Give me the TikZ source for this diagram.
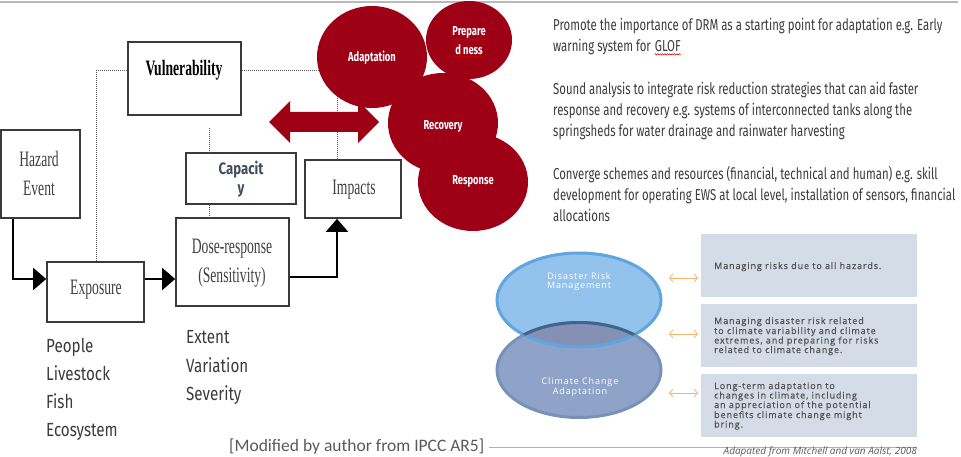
\documentclass[tikz,border=0pt]{standalone}
\usepackage{fontspec}
\setmainfont{Fira Sans}
\newfontfamily\cond{Fira Sans}[FakeStretch=0.72]
\newfontfamily\condl{Fira Sans}[FakeStretch=0.8]
\newfontfamily\tser{Liberation Serif}[FakeStretch=0.62]
\newfontfamily\vennf{Open Sans}[LetterSpace=10]
\newfontfamily\panelf{Open Sans}[LetterSpace=10, FakeBold=0.5]
\newfontfamily\opensans{Open Sans}
\newfontfamily\cali{Carlito}
\usetikzlibrary{arrows.meta,decorations.pathmorphing,shapes.geometric}
\definecolor{drmred}{HTML}{9E0016}
\definecolor{boxline}{HTML}{3A3A3A}
\definecolor{sertext}{HTML}{404040}
\definecolor{txt}{HTML}{3B3B3B}
\definecolor{captxt}{HTML}{3F4D5E}
\definecolor{drmfill}{HTML}{93C2EC}
\definecolor{drmline}{HTML}{5FA5E0}
\definecolor{ccafill}{HTML}{8FA3C8}
\definecolor{ccaline}{HTML}{7791BB}
\definecolor{ovfill}{HTML}{8491B4}
\definecolor{ovline}{HTML}{3D6689}
\definecolor{panel}{HTML}{D4DCE8}
\definecolor{orarrow}{HTML}{F5B26B}
\definecolor{rulec}{HTML}{9DB3D6}
\tikzset{
  box/.style={draw=boxline, line width=1.6pt, fill=white, inner sep=0pt},
  sertxt/.style={inner sep=0pt, text=sertext, font=\tser\fontsize{22}{28}\selectfont},
  dots/.style={draw=gray!70!black, line width=1pt, densely dotted},
  flow/.style={draw=black, line width=1.5pt, -{Triangle[length=13pt,width=22pt]}},
  blob/.style={ellipse, fill=drmred, inner sep=0pt},
  blobtxt/.style={inner sep=0pt, text=white, font=\cond\bfseries\fontsize{13}{15}\selectfont},
  para/.style={anchor=base west, inner sep=0pt, text=txt, font=\cond\fontsize{15.8}{18}\selectfont},
  listtxt/.style={anchor=base west, inner sep=0pt, text=txt, font=\condl\fontsize{19}{22}\selectfont},
  squig/.style={draw=red!80!black, line width=0.5pt, decorate, decoration={snake, amplitude=0.7pt, segment length=2.4pt}},
  panelbox/.style={fill=panel, inner sep=0pt, minimum width=216pt, minimum height=63pt, anchor=north west},
  paneltxt/.style={anchor=base west, inner sep=0pt, text=black!68, font=\panelf\fontsize{9}{9.7}\selectfont},
  venntxt/.style={inner sep=0pt, text=white, font=\vennf\fontsize{9}{10}\selectfont},
  twoway/.style={draw=orarrow, line width=0.8pt, {Straight Barb[length=3.5pt,width=8pt]}-{Straight Barb[length=3.5pt,width=8pt]}},
}
\begin{document}
\begin{tikzpicture}[x=1pt,y=-1pt]
\useasboundingbox (0,0) rectangle (961,457);
% top rule
\draw[gray!55, line width=2pt] (0,2) -- (958,2);

% ---- boxes ----
\node[box, minimum width=113pt, minimum height=73pt] (vul) at (184.5,78.5) {};
\node[box, minimum width=79pt, minimum height=88pt] (haz) at (40.5,174) {};
\node[box, minimum width=97pt, minimum height=60pt] (exp) at (95.5,292) {};
\node[box, minimum width=113pt, minimum height=88pt] (dose) at (232.5,262) {};
\node[box, minimum width=110pt, minimum height=51pt] (cap) at (241,178.5) {};
\node[box, minimum width=96pt, minimum height=58pt] (imp) at (353,189) {};

\node[sertxt, text=black, font=\tser\bfseries\fontsize{22}{28}\selectfont] (vult) at (184,70) {Vulnerability};
\node[sertxt] (hazt1) at (39,159) {Hazard};
\node[sertxt] (hazt2) at (39,188) {Event};
\node[sertxt] (expt) at (96,290) {Exposure};
\node[sertxt] (doset1) at (232,249) {Dose-response};
\node[sertxt] (doset2) at (232,277) {(Sensitivity)};
\node[sertxt] (impt) at (354,190) {Impacts};
\node[inner sep=0pt, text=captxt, font=\condl\bfseries\fontsize{16.5}{18}\selectfont] (capt1) at (241,170) {Capacit};
\node[inner sep=0pt, text=captxt, font=\condl\bfseries\fontsize{16.5}{18}\selectfont] (capt2) at (241,191) {y};

% ---- dotted links ----
\coordinate (vl) at (96,71);
\coordinate (vr) at (337,71);
\coordinate (vd) at (209,128);
\draw[dots] (vul.west |- vl) -- (vl) -- (vl |- exp.north);
\draw[dots] (vul.east |- vr) -- (vr) -- (vr |- imp.north);
\draw[dots] (vd) -- (vd |- cap.north);
\draw[dots] (cap.south -| vd) -- (dose.north -| vd);

% ---- solid flow arrows ----
\draw[flow] (haz.south -| 13,0) |- (exp.west |- 0,279);
\draw[flow] (exp.east |- 0,279) -- (dose.west |- 0,279);
\draw[flow] (dose.east |- 0,277) -| (337,0 |- imp.south);

% ---- red blobs ----
\fill[drmred] (269,122) -- (290,101) -- (290,112) -- (358,112) -- (358,101) -- (379,122)
  -- (358,143) -- (358,132) -- (290,132) -- (290,143) -- cycle;
\node[blob, minimum width=110pt, minimum height=102pt] (ad) at (372,57) {};
\node[blob, minimum width=86pt, minimum height=78pt] (prep) at (469,40) {};
\node[blob, minimum width=110pt, minimum height=100pt] (rec) at (443,123) {};
\node[blob, minimum width=110pt, minimum height=98pt] (resp) at (473,182) {};
\node[blobtxt] (adt) at (372,58) {Adaptation};
\node[blobtxt] (prept1) at (469,32) {Prepare};
\node[blobtxt] (prept2) at (469,50) {d ness};
\node[blobtxt] (rect) at (443,126) {Recovery};
\node[blobtxt] (respt) at (473,181) {Response};
\draw[squig] ([yshift=-1.5pt]prept1.south west) -- ([yshift=-1.5pt]prept1.south east);
\draw[squig] ([yshift=-1.5pt]prept2.south west) -- ([yshift=-1.5pt]prept2.south east);

% ---- right paragraphs ----
\node[para] (l1) at (553,31) {Promote the importance of DRM as a starting point for adaptation e.g. Early};
\node[para] (l2) at (553,52) {warning system for};
\node[para, xshift=3.6pt] (glof) at (l2.base east) {GLOF};
\draw[squig] ([yshift=-2pt]glof.south west) -- ([yshift=-2pt]glof.south east);
\node[para] (l3) at (553,95) {Sound analysis to integrate risk reduction strategies that can aid faster};
\node[para] (l4) at (553,116) {response and recovery e.g. systems of interconnected tanks along the};
\node[para] (l5) at (553,137) {springsheds for water drainage and rainwater harvesting};
\node[para] (l6) at (553,180) {Converge schemes and resources (financial, technical and human) e.g. skill};
\node[para] (l7) at (553,201) {development for operating EWS at local level, installation of sensors, financial};
\node[para] (l8) at (553,222) {allocations};

% ---- lists ----
\node[listtxt] (e1) at (46,352.5) {People};
\node[listtxt] (e2) at (46,380) {Livestock};
\node[listtxt] (e3) at (46,408.5) {Fish};
\node[listtxt] (e4) at (46,436.5) {Ecosystem};
\node[listtxt] (s1) at (186,343.5) {Extent};
\node[listtxt] (s2) at (186,372) {Variation};
\node[listtxt] (s3) at (186,400.5) {Severity};

% ---- Venn ----
\fill[drmfill] (579,300) ellipse [x radius=82, y radius=47];
\fill[ccafill] (579,370) ellipse [x radius=82, y radius=47.5];
\begin{scope}
  \clip (579,300) ellipse [x radius=82, y radius=47];
  \fill[ovfill] (579,370) ellipse [x radius=82, y radius=47.5];
\end{scope}
\draw[drmline, line width=3pt] (579,300) ellipse [x radius=82, y radius=47];
\draw[ccaline, line width=3pt] (579,370) ellipse [x radius=82, y radius=47.5];
\begin{scope}
  \clip (579,300) ellipse [x radius=82, y radius=47];
  \draw[ovline, line width=3pt] (579,370) ellipse [x radius=82, y radius=47.5];
\end{scope}
\node[venntxt] (drm1) at (579,276) {Disaster Risk};
\node[venntxt] (drm2) at (579,286) {Management};
\node[venntxt] (cca1) at (580,382) {Climate Change};
\node[venntxt] (cca2) at (580,392) {Adaptation};

% panels
\node[panelbox] (p1) at (701,234) {};
\node[panelbox] (p2) at (701,304) {};
\node[panelbox] (p3) at (701,374) {};
\node[paneltxt] (p1a) at (714,269) {Managing risks due to all hazards.};
\node[paneltxt] (p2a) at (714,324) {Managing disaster risk related};
\node[paneltxt] (p2b) at (714,334) {to climate variability and climate};
\node[paneltxt] (p2c) at (714,343.5) {extremes, and preparing for risks};
\node[paneltxt] (p2d) at (714,353) {related to climate change.};
\node[paneltxt] (p3a) at (714,389) {Long-term adaptation to};
\node[paneltxt] (p3b) at (714,398.5) {changes in climate, including};
\node[paneltxt] (p3c) at (714,408) {an appreciation of the potential};
\node[paneltxt] (p3d) at (714,418) {benefits climate change might};
\node[paneltxt] (p3e) at (714,427.5) {bring.};

% orange arrows
\coordinate (o1l) at (669,278); \coordinate (o1r) at (698,278);
\coordinate (o2l) at (669,334); \coordinate (o2r) at (698,334);
\coordinate (o3l) at (669,393); \coordinate (o3r) at (698,393);
\draw[twoway] (o1l) -- (o1r);
\draw[twoway] (o2l) -- (o2r);
\draw[twoway] (o3l) -- (o3r);

% bottom captions
\coordinate (rl) at (489,447); \coordinate (rr) at (917,447);
\draw[rulec, line width=0.8pt] (rl) -- (rr);
\node[anchor=base west, inner sep=0pt, text=black!65, font=\cali\fontsize{17.5}{20}\selectfont] (cap1) at (229,451.5) {[Modified by author from IPCC AR5]};
\node[anchor=base east, inner sep=0pt, text=black!65, font=\opensans\itshape\fontsize{10}{12}\selectfont] (cap2) at (917,454.5) {Adapated from Mitchell and van Aalst, 2008};
\end{tikzpicture}
\end{document}
